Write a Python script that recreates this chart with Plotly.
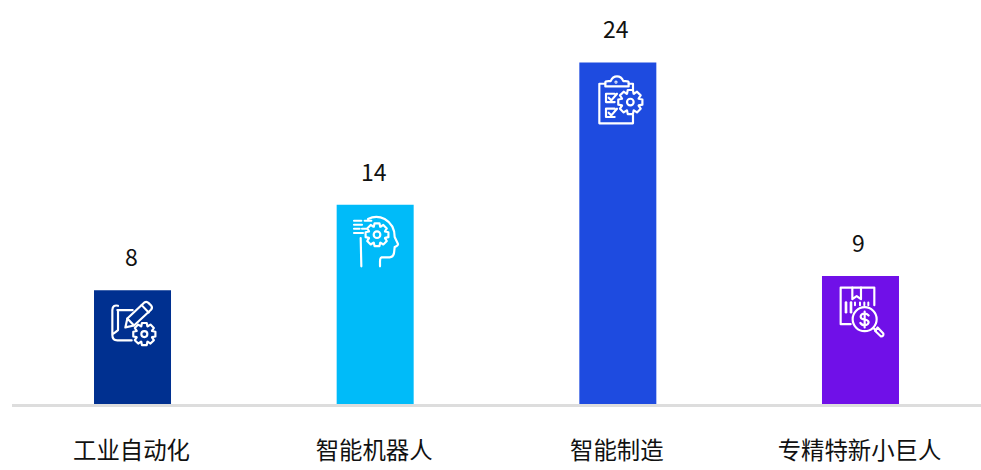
import base64, math
import plotly.graph_objects as go

categories = ["工业自动化", "智能机器人", "智能制造", "专精特新小巨人"]
values = [8, 14, 24, 9]
colors = ["#003090", "#00BBF9", "#1E4BE0", "#7010E8"]
FONT = "Noto Sans CJK SC"

def gear(cx, cy, ro, ri, hole, teeth=8):
    pts = []
    step = 2 * math.pi / teeth
    for i in range(teeth):
        a = i * step
        for da, r in ((-0.30, ri), (-0.17, ro), (0.17, ro), (0.30, ri)):
            pts.append(f"{cx + r * math.cos(a + da * step * 1.6):.1f},{cy + r * math.sin(a + da * step * 1.6):.1f}")
    return (f'<polygon points="{" ".join(pts)}"/>'
            f'<circle cx="{cx}" cy="{cy}" r="{hole}"/>')

def svg(inner, w, h, sw=6.5):
    s = (f'<svg xmlns="http://www.w3.org/2000/svg" viewBox="0 0 {w} {h}" width="{w}" height="{h}">'
         f'<g fill="none" stroke="#fff" stroke-width="{sw}" stroke-linejoin="round" stroke-linecap="round">{inner}</g></svg>')
    return "data:image/svg+xml;base64," + base64.b64encode(s.encode()).decode()

icon_paper = svg(
    '<path d="M128 75H82M84 75V135Q78 140 70 146M84 62Q68 58 67 75V150Q67 166 82 166H125"/>'
    '<path d="M106 127L112 100L163 52Q170 48 176 54L184 62Q188 68 183 74L132 121Z"/>'
    '<path d="M112 100L132 121M155 60L176 82"/>' + gear(163, 147, 34, 25, 9), 255, 210)
icon_head = svg(
    '<path d="M100 58Q125 45 150 58Q180 75 180 112L190 133Q191 138 180 142L178 160Q176 172 165 173H140Q136 175 136 185V200"/>'
    '<path d="M78 115L80 200"/>'
    '<path d="M58 63H80M90 63H110M58 75H82M58 87H75M82 87H95M58 100H85"/>' + gear(127, 105, 35, 26, 10), 255, 240)
icon_clip = svg(
    '<path d="M90 70H72V189H173V165"/><path d="M160 70H173V88"/>'
    '<path d="M90 78V66Q90 62 100 62H106Q112 48 125 48Q138 48 144 62H150Q160 62 160 66V78Z"/>'
    '<circle cx="122" cy="65" r="1.5"/>'
    '<path d="M118 100H92V125H118M100 112L108 120L125 100"/>'
    '<path d="M118 145H92V170H118M100 157L108 165L125 145"/>' + gear(165, 125, 37, 27, 10), 255, 240)
icon_box = svg(
    '<path d="M92 160H62V50H163V103"/><path d="M97 50V85L110 76L123 85V50"/>'
    '<path d="M78 95V124" stroke-width="8"/><path d="M93 95V124" stroke-width="8"/>'
    '<path d="M105 95V103M120 95V103M133 95V103M145 95V103" stroke-width="6"/>'
    '<circle cx="134" cy="145" r="36"/><path d="M160 172L168 178"/>'
    '<path d="M165 180L173 170L190 188Q192 196 183 197Z"/>'
    '<path d="M146 134Q140 127 132 128Q122 130 122 138Q123 145 134 146Q146 148 146 155Q144 163 134 163Q125 163 121 156M134 122V170"/>', 255, 240)

# (image, width px, height px, px below the top of the bar, px to the right)
icons = [(icon_paper, 85, 70, -5, 0), (icon_head, 85, 80, -5, 2),
         (icon_clip, 85, 80, -2, 0), (icon_box, 85, 80, -5, 2)]

PLOT_H = 404.5
Y_MAX = PLOT_H / 14.25
CAT_W = 242.67

fig = go.Figure(go.Bar(x=categories, y=values, marker=dict(color=colors, line_width=0), width=77 / CAT_W))

images, annos = [], []
for i, (src, w, h, off, dx) in enumerate(icons):
    images.append(dict(source=src, xref="x", yref="y", x=i + dx / CAT_W, y=values[i] - off / 14.25,
                       sizex=w / CAT_W, sizey=h / 14.25, xanchor="center", yanchor="top",
                       sizing="stretch", layer="above"))
    annos.append(dict(x=i, y=values[i], xref="x", yref="y", text=str(values[i]), showarrow=False,
                      yanchor="bottom", yshift=15, xshift=-1.5,
                      font=dict(family=FONT, size=23, color="#111111")))

fig.update_layout(
    width=981, height=470, margin=dict(l=12, r=0, t=0, b=65.5),
    paper_bgcolor="#ffffff", plot_bgcolor="#ffffff", showlegend=False,
    images=images, annotations=annos,
    xaxis=dict(type="category", range=[-0.4966, 3.4966], showgrid=False, showline=True,
               linecolor="#DDDDDD", linewidth=2.5,
               ticks="outside", ticklen=24, tickcolor="rgba(0,0,0,0)", ticklabelshift=-1,
               tickfont=dict(family=FONT, size=23.4, color="#111111")),
    yaxis=dict(range=[0, Y_MAX], visible=False),
)
fig.write_html("out.html", config=dict(displayModeBar=False, responsive=False),
               post_script="document.body.style.margin='0';document.documentElement.style.overflow='hidden';")
